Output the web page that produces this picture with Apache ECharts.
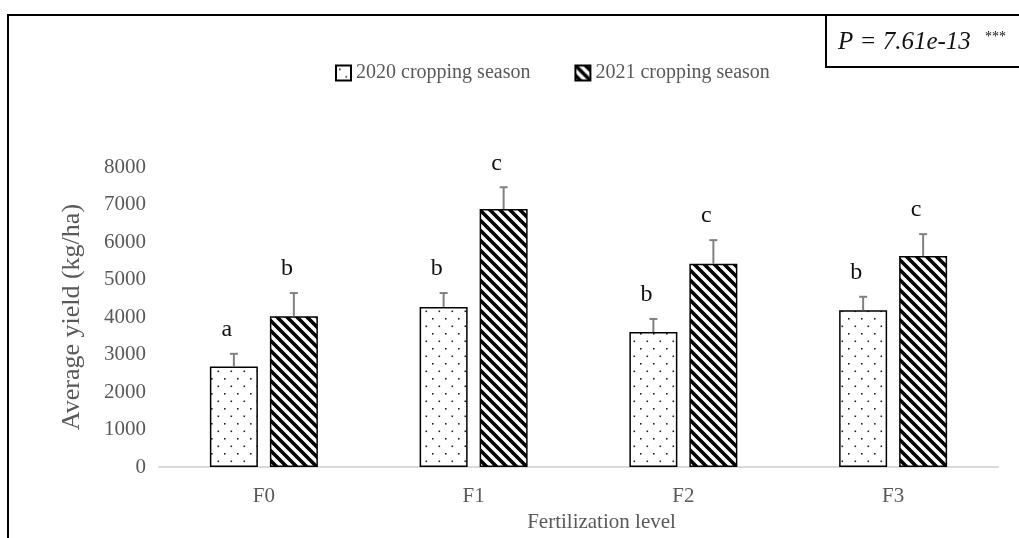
<!DOCTYPE html>
<html>
<head>
<meta charset="utf-8">
<script src="https://cdn.jsdelivr.net/npm/echarts@6/dist/echarts.min.js"></script>
<style>
  html, body { margin: 0; padding: 0; background: #fff; }
  #chart { width: 1019px; height: 538px; }
</style>
</head>
<body>
<div id="chart"></div>
<script>
// data
const categories = ['F0', 'F1', 'F2', 'F3'];
const seriesNames = ['2020 cropping season', '2021 cropping season'];
const yield2020 = [2680, 4270, 3600, 4180];
const yield2021 = [4020, 6880, 5420, 5630];
const err2020 = [340, 370, 350, 360];
const err2021 = [620, 580, 630, 580];
const letters2020 = ['a', 'b', 'b', 'b'];
const letters2021 = ['b', 'c', 'c', 'c'];
const yTicks = [0, 1000, 2000, 3000, 4000, 5000, 6000, 7000, 8000];

const serif = '"Liberation Serif", "Times New Roman", serif';
const grey = '#595959';

// fill patterns
function dotTile() {
    let c = document.createElement('canvas');
    c.width = 13; c.height = 15;
    let ctx = c.getContext('2d');
    ctx.fillStyle = '#fff';
    ctx.fillRect(0, 0, 13, 15);
    ctx.fillStyle = '#222';
    ctx.fillRect(3, 3, 1.6, 1.6);
    ctx.fillRect(9.5, 10.5, 1.6, 1.6);
    return c;
}
function stripeTile() {
    let p = 10;
    let c = document.createElement('canvas');
    c.width = p; c.height = p;
    let ctx = c.getContext('2d');
    ctx.fillStyle = '#fff';
    ctx.fillRect(0, 0, p, p);
    ctx.strokeStyle = '#000';
    ctx.lineWidth = 3.6;
    ctx.beginPath();
    ctx.moveTo(-p, 0); ctx.lineTo(p, 2 * p);
    ctx.moveTo(0, 0); ctx.lineTo(p, p);
    ctx.moveTo(0, -p); ctx.lineTo(2 * p, p);
    ctx.stroke();
    return c;
}
const dotFill = { image: dotTile(), repeat: 'repeat' };
const stripeFill = { image: stripeTile(), repeat: 'repeat' };

const barWidth = 48;
const barShift = 30; // half of bar width + gap

// error bars (upper half only) with significance letters
function errorSeries(name, values, errs, letters, shift) {
    return {
        type: 'custom',
        name: name + ' err',
        silent: true,
        z: 5,
        data: values.map((v, i) => [i, v, v + errs[i]]),
        renderItem: function (params, api) {
            let i = api.value(0);
            let top = api.coord([i, api.value(1)]);
            let hi = api.coord([i, api.value(2)]);
            let x = top[0] + shift;
            return {
                type: 'group',
                children: [{
                    type: 'line',
                    shape: { x1: x, y1: top[1], x2: x, y2: hi[1] },
                    style: { stroke: '#808080', lineWidth: 2 }
                }, {
                    type: 'line',
                    shape: { x1: x - 4, y1: hi[1], x2: x + 4, y2: hi[1] },
                    style: { stroke: '#808080', lineWidth: 2 }
                }, {
                    type: 'text',
                    style: {
                        text: letters[params.dataIndex],
                        x: x - 7,
                        y: hi[1] - 24,
                        align: 'center',
                        verticalAlign: 'middle',
                        font: '24px ' + serif,
                        fill: '#111'
                    }
                }]
            };
        }
    };
}

let myChart = echarts.init(document.getElementById('chart'));

let option = {
    animation: false,
    backgroundColor: '#fff',
    grid: {
        left: 159,
        right: 21,
        top: 167,
        bottom: 65
    },
    legend: {
        left: 330,
        top: 58,
        itemWidth: 15,
        itemHeight: 15,
        itemGap: 44,
        icon: 'rect',
        data: seriesNames,
        textStyle: {
            fontFamily: serif,
            fontSize: 20,
            color: grey
        }
    },
    xAxis: {
        type: 'category',
        data: categories,
        name: 'Fertilization level',
        nameLocation: 'middle',
        nameGap: 40,
        nameTextStyle: {
            fontFamily: serif,
            fontSize: 21,
            color: grey,
            padding: [0, 0, 0, 46]
        },
        axisLine: { lineStyle: { color: '#d9d9d9', width: 2 } },
        axisTick: { show: false },
        axisLabel: {
            margin: 19,
            fontFamily: serif,
            fontSize: 21,
            color: grey
        }
    },
    yAxis: {
        type: 'value',
        min: yTicks[0],
        max: yTicks[yTicks.length - 1],
        interval: yTicks[1] - yTicks[0],
        name: 'Average yield (kg/ha)',
        nameLocation: 'middle',
        nameGap: 74,
        nameTextStyle: {
            fontFamily: serif,
            fontSize: 26,
            color: grey
        },
        axisLine: { show: false },
        axisTick: { show: false },
        splitLine: { show: false },
        axisLabel: {
            margin: 13,
            fontFamily: serif,
            fontSize: 21,
            color: grey,
            formatter: v => String(v)
        }
    },
    series: [{
        name: seriesNames[0],
        type: 'bar',
        data: yield2020,
        barWidth: barWidth,
        barGap: '25%',
        itemStyle: { color: dotFill, borderColor: '#000', borderWidth: 1.5 }
    }, {
        name: seriesNames[1],
        type: 'bar',
        data: yield2021,
        barWidth: barWidth,
        itemStyle: { color: stripeFill, borderColor: '#000', borderWidth: 1.5 }
    },
        errorSeries(seriesNames[0], yield2020, err2020, letters2020, -barShift),
        errorSeries(seriesNames[1], yield2021, err2021, letters2021, barShift)
    ],
    graphic: [{
        // outer frame (top and left edges)
        type: 'polyline',
        shape: { points: [[8, 540], [8, 15], [1021, 15]] },
        style: { stroke: '#000', lineWidth: 2, fill: null }
    }, {
        type: 'rect',
        shape: { x: 826, y: 15, width: 200, height: 52 },
        style: { stroke: '#000', lineWidth: 2, fill: '#fff' }
    }, {
        type: 'text',
        left: 838,
        top: 30,
        style: {
            text: 'P = 7.61e-13',
            font: 'italic 25px ' + serif,
            fill: '#111'
        }
    }, {
        type: 'text',
        left: 985,
        top: 30,
        style: {
            text: '***',
            font: '14px ' + serif,
            fill: '#111'
        }
    }]
};

myChart.setOption(option);
</script>
</body>
</html>
